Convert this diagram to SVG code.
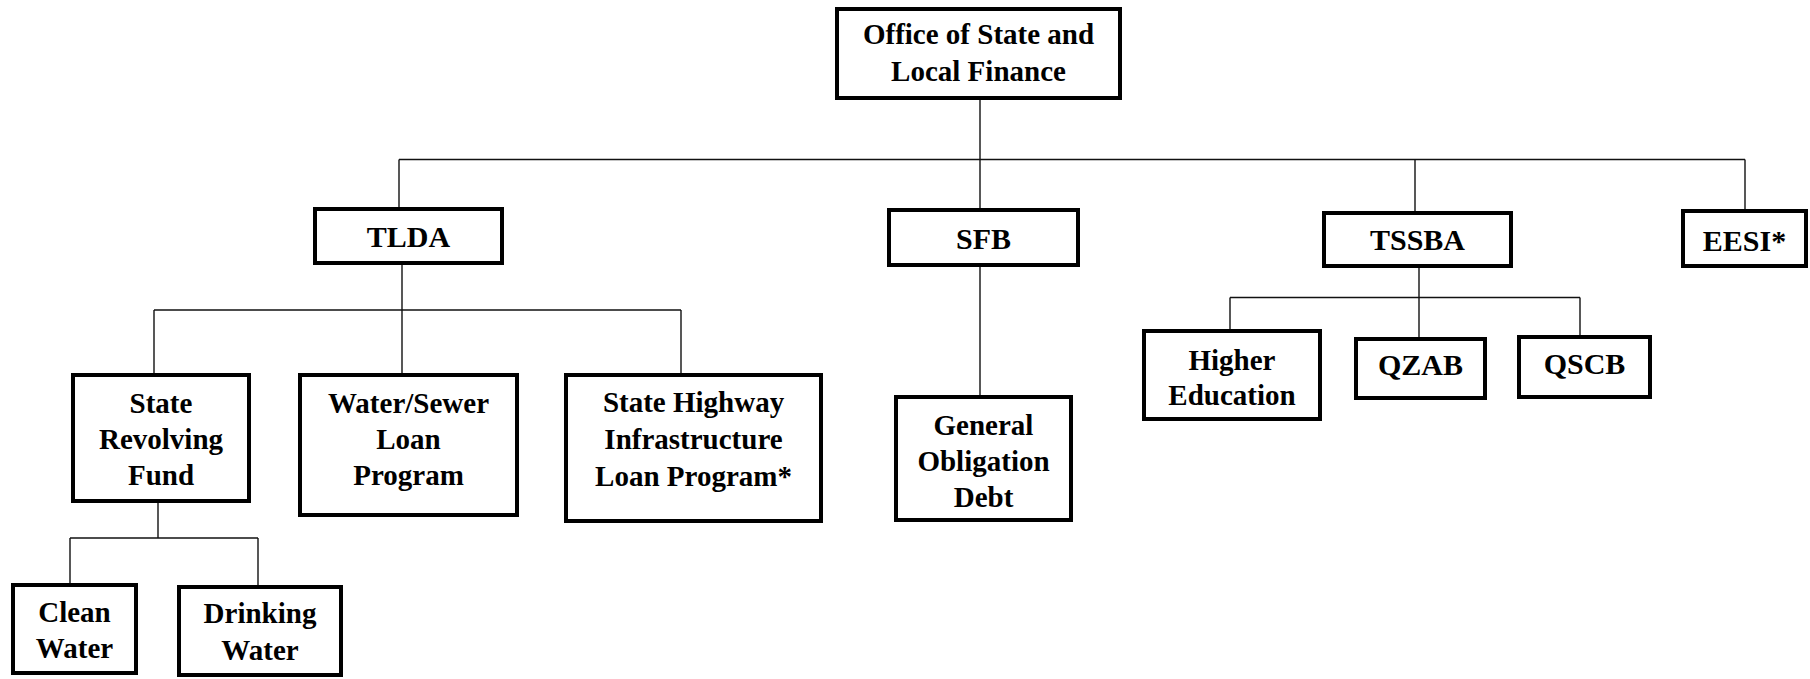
<svg xmlns="http://www.w3.org/2000/svg" width="1810" height="679" viewBox="0 0 1810 679">
<style>
.box{fill:#fff;stroke:#000;stroke-width:4}
.lbl{font-family:"Liberation Serif","Times New Roman",serif;font-weight:bold;font-size:29px;fill:#000;text-anchor:middle}
.big{font-size:30px}
.con{fill:none;stroke:#111;stroke-width:1.4}
</style>
<rect width="1810" height="679" fill="#fff"/>
<g id="connectors" class="con">
<path d="M980 100V208"/>
<path d="M399 159.5H1745"/>
<path d="M399 159.5V207"/>
<path d="M1415 159.5V211"/>
<path d="M1745 159.5V209"/>
<path d="M402 265V310"/>
<path d="M154 310H681"/>
<path d="M154 310V373"/>
<path d="M402 310V373"/>
<path d="M681 310V373"/>
<path d="M158 503V538"/>
<path d="M70 538H258"/>
<path d="M70 538V583"/>
<path d="M258 538V585"/>
<path d="M980 267V395"/>
<path d="M1419 268V297.5"/>
<path d="M1230 297.5H1580"/>
<path d="M1230 297.5V329"/>
<path d="M1419 297.5V337"/>
<path d="M1580 297.5V335"/>
</g>
<g id="office"><rect class="box" x="837" y="9" width="283" height="89"/><text class="lbl" x="978.5" y="44">Office of State and</text><text class="lbl" x="978.5" y="81">Local Finance</text></g>
<g id="tlda"><rect class="box" x="315" y="209" width="187" height="54"/><text class="lbl big" x="408.5" y="247">TLDA</text></g>
<g id="sfb"><rect class="box" x="889" y="210" width="189" height="55"/><text class="lbl big" x="983.5" y="249">SFB</text></g>
<g id="tssba"><rect class="box" x="1324" y="213" width="187" height="53"/><text class="lbl big" x="1417.5" y="250">TSSBA</text></g>
<g id="eesi"><rect class="box" x="1683" y="211" width="123" height="55"/><text class="lbl big" x="1744.5" y="251">EESI*</text></g>
<g id="srf"><rect class="box" x="73" y="375" width="176" height="126"/><text class="lbl" x="161" y="413">State</text><text class="lbl" x="161" y="449">Revolving</text><text class="lbl" x="161" y="485">Fund</text></g>
<g id="wsl"><rect class="box" x="300" y="375" width="217" height="140"/><text class="lbl" x="408.5" y="413">Water/Sewer</text><text class="lbl" x="408.5" y="449">Loan</text><text class="lbl" x="408.5" y="485">Program</text></g>
<g id="shil"><rect class="box" x="566" y="375" width="255" height="146"/><text class="lbl" x="693.5" y="412">State Highway</text><text class="lbl" x="693.5" y="449">Infrastructure</text><text class="lbl" x="693.5" y="486">Loan Program*</text></g>
<g id="god"><rect class="box" x="896" y="397" width="175" height="123"/><text class="lbl" x="983.5" y="435">General</text><text class="lbl" x="983.5" y="471">Obligation</text><text class="lbl" x="983.5" y="507">Debt</text></g>
<g id="cw"><rect class="box" x="13" y="585" width="123" height="88"/><text class="lbl" x="74.5" y="622">Clean</text><text class="lbl" x="74.5" y="658">Water</text></g>
<g id="dw"><rect class="box" x="179" y="587" width="162" height="88"/><text class="lbl" x="260" y="623">Drinking</text><text class="lbl" x="260" y="660">Water</text></g>
<g id="he"><rect class="box" x="1144" y="331" width="176" height="88"/><text class="lbl" x="1232" y="370">Higher</text><text class="lbl" x="1232" y="405">Education</text></g>
<g id="qzab"><rect class="box" x="1356" y="339" width="129" height="59"/><text class="lbl big" x="1420.5" y="375">QZAB</text></g>
<g id="qscb"><rect class="box" x="1519" y="337" width="131" height="60"/><text class="lbl big" x="1584.5" y="374">QSCB</text></g>
</svg>
